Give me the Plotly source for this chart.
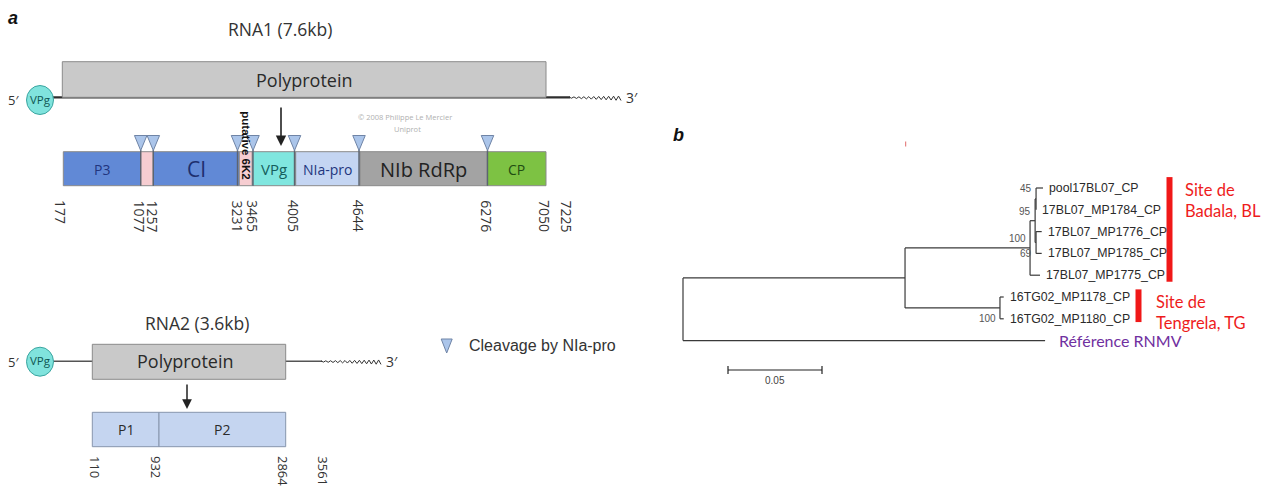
import plotly.graph_objects as go

# ================= DATA =================
# ---- Panel a : genome maps (schematic diagram units) ----
rna1_title = "RNA1 (7.6kb)"
rna1_seg_names = ["P3", "6K1", "CI", "6K2", "VPg", "NIa-pro", "NIb RdRp", "CP"]
rna1_seg_text = ["P3", "", "CI", "", "VPg", "NIa-pro", "NIb RdRp", "CP"]
rna1_seg_bounds = [63.3, 140.7, 153.3, 239.3, 252.3, 295.7, 360.0, 487.3, 546.0]
rna1_seg_colors = ["#6189d6", "#f6cdd1", "#6189d6", "#f6cdd1", "#80e6df", "#c4d5f2", "#a3a3a3", "#7dc243"]
rna1_seg_txtcol = ["#22357e", "#000000", "#1e2f6e", "#000000", "#155e5c", "#22357e", "#222222", "#1f4d12"]
rna1_seg_txtsize = [14, 10, 21, 10, 15, 14, 20, 14]
rna1_pos_labels = ["177", "1077", "1257", "3231", "3465", "4005", "4644", "6276", "7050", "7225"]
rna1_pos_x = [61, 139.5, 152.5, 237.5, 253, 294, 359.3, 486.8, 545, 566.5]
rna1_cleavage_x = [140.7, 153.3, 237.5, 253.0, 294.5, 359.0, 487.5]
rna1_poly_span = [62.3, 546.0]

rna2_title = "RNA2 (3.6kb)"
rna2_seg_names = ["P1", "P2"]
rna2_seg_bounds = [92.3, 159.0, 285.7]
rna2_pos_labels = ["110", "932", "2864", "3561"]
rna2_pos_x = [95, 156, 283, 322.7]
rna2_poly_span = [92.3, 285.7]

legend_text = "Cleavage by NIa-pro"

# ---- Panel b : phylogenetic tree ----
tip_names = ["pool17BL07_CP", "17BL07_MP1784_CP", "17BL07_MP1776_CP", "17BL07_MP1785_CP",
             "17BL07_MP1775_CP", "16TG02_MP1178_CP", "16TG02_MP1180_CP", "Référence RNMV"]
# node, parent, branch length (subst./site), bootstrap, bootstrap label placement
tree_nodes = ["root", "A", "RNMV", "B", "F", "C", "T4", "D", "E", "T0", "T1", "T2", "T3", "T5", "T6"]
tree_parent = [None, "root", "root", "A", "A", "B", "B", "C", "C", "D", "D", "E", "E", "F", "F"]
tree_blen = [0.0, 0.1181, 0.1926, 0.0665, 0.0505, 0.0027, 0.0053, 0.0005, 0.0005,
             0.0037, 0.0, 0.0030, 0.0030, 0.0020, 0.0020]
tree_boot = [None, None, None, "100", "100", "95", None, "45", "69", None, None, None, None, None, None]
tree_boot_pos = [None, None, None, "mid", "bottom", "mid", None, "top", "bottom", None, None, None, None, None, None]
tip_of_node = {"T0": 0, "T1": 1, "T2": 2, "T3": 3, "T4": 4, "T5": 5, "T6": 6, "RNMV": 7}
scale_bar_len = 0.05
scale_bar_label = "0.05"

clade_names = ["Site de<br>Badala, BL", "Site de<br>Tengrela, TG"]
clade_tip_span = [(-0.5, 4.3), (4.65, 6.15)]
clade_bar_x = [1169.5, 1138.5]
clade_text_x = [1183, 1154]

# ================= LAYOUT CONSTANTS =================
W, H = 1267, 490
ROOT_PX, PX_PER_UNIT = 683.0, 1880.0
TIP0_PX, TIP_STEP = 188.0, 21.8

FONT_A = "Open Sans, Noto Sans, sans-serif"
FONT_N = "Liberation Sans, Arial, sans-serif"
FONT_C = "Lato, Open Sans, sans-serif"

shapes = []
annots = []


def txt(x, y, s, size=13, color="#333", family=FONT_A, xa="center", ya="middle", angle=0,
        xref="x", yref="y", **kw):
    annots.append(dict(x=x, y=y, text=s, showarrow=False, xref=xref, yref=yref, xanchor=xa,
                       yanchor=ya, textangle=angle, font=dict(size=size, color=color, family=family),
                       borderpad=0, **kw))


def rect(x0, x1, y0, y1, fill, line="#8a8a8a", lw=1):
    shapes.append(dict(type="rect", xref="x", yref="y", x0=x0, x1=x1, y0=y0, y1=y1,
                       fillcolor=fill, line=dict(color=line, width=lw), layer="above"))


def seg(x0, y0, x1, y1, color="#333", lw=1, xref="x", yref="y"):
    shapes.append(dict(type="line", xref=xref, yref=yref, x0=x0, y0=y0, x1=x1, y1=y1,
                       line=dict(color=color, width=lw), layer="above"))


def wave(x0, x1, y, n_amp_end=3.2):
    pts = []
    n = int((x1 - x0) / 2.4)
    for i in range(n + 1):
        xx = x0 + i * (x1 - x0) / n
        amp = 0.8 + (n_amp_end - 0.8) * i / n
        yy = y + (amp if i % 2 else -amp * 0.4)
        pts.append(f"{xx:.2f},{yy:.2f}")
    path = "M " + " L ".join(pts)
    shapes.append(dict(type="path", xref="x", yref="y", path=path,
                       line=dict(color="#333", width=1), layer="above"))


def vpg(cx, cy):
    shapes.append(dict(type="circle", xref="x", yref="y", x0=cx - 13.5, x1=cx + 13.5,
                       y0=cy - 14.5, y1=cy + 14.5, fillcolor="#80e3dd",
                       line=dict(color="#3aa5a0", width=1), layer="above"))
    txt(cx, cy - 1, "VPg", size=11.5, color="#0f5652")
    txt(cx - 20, cy, "5′", size=13, color="#333", xa="right")


def tri(x, ytop, w=12.5, h=15):
    shapes.append(dict(type="path", xref="x", yref="y",
                       path=f"M {x - w/2},{ytop} L {x + w/2},{ytop} L {x},{ytop + h} Z",
                       fillcolor="#abc5ea", line=dict(color="#6f84a6", width=1), layer="above"))


# ================= PANEL a =================
txt(13, 18, "<b><i>a</i></b>", size=18, color="#111", family="Liberation Sans, Arial, sans-serif")

# RNA1
txt((rna1_poly_span[0] + rna1_poly_span[1]) / 2 - 24, 29, rna1_title, size=17.5, color="#333")
seg(53, 97.3, 570, 97.3, color="#2e2e2e", lw=2.2)
wave(569, 621, 97.3)
txt(625, 97, "3′", size=14, color="#333", xa="left")
rect(rna1_poly_span[0], rna1_poly_span[1], 61.7, 97.3, "#c9c9c9")
txt((rna1_poly_span[0] + rna1_poly_span[1]) / 2, 80, "Polyprotein", size=18, color="#2a2a2a")
vpg(40, 100)

for i, name in enumerate(rna1_seg_names):
    x0, x1 = rna1_seg_bounds[i], rna1_seg_bounds[i + 1]
    rect(x0, x1, 151.7, 185.7, rna1_seg_colors[i])
    if rna1_seg_text[i]:
        txt((x0 + x1) / 2, 169, rna1_seg_text[i], size=rna1_seg_txtsize[i], color=rna1_seg_txtcol[i])

for x in rna1_cleavage_x:
    seg(x, 150, x, 185.7, color="#5c6470", lw=1.4)
    tri(x, 135.5)

for lab, x in zip(rna1_pos_labels, rna1_pos_x):
    txt(x, 199, lab, size=14, color="#333", angle=90, ya="top")

txt(245.7, 145, "<b>putative 6K2</b>", size=11.5, color="#111", angle=90,
    family="Liberation Sans, Arial, sans-serif")

annots.append(dict(x=281, y=146, ax=281, ay=106, xref="x", yref="y", axref="x", ayref="y",
                   text="", showarrow=True, arrowhead=2, arrowsize=1.3, arrowwidth=1.6,
                   arrowcolor="#222"))

txt(405, 117, "© 2008 Philippe Le Mercier", size=7.5, color="#b0b0b0")
txt(407, 128.5, "Uniprot", size=7.5, color="#b0b0b0")

# RNA2
txt((rna2_poly_span[0] + rna2_poly_span[1]) / 2 + 8, 323, rna2_title, size=17.5, color="#333")
seg(53, 361.2, 322, 361.2, color="#555", lw=1.5)
wave(321, 381, 361.2)
txt(385, 361, "3′", size=14, color="#333", xa="left")
rect(rna2_poly_span[0], rna2_poly_span[1], 344.3, 379.3, "#c9c9c9")
txt((rna2_poly_span[0] + rna2_poly_span[1]) / 2 - 4, 361, "Polyprotein", size=18, color="#2a2a2a")
vpg(40, 361.7)
annots.append(dict(x=187, y=409, ax=187, ay=383, xref="x", yref="y", axref="x", ayref="y",
                   text="", showarrow=True, arrowhead=2, arrowsize=1.3, arrowwidth=1.5,
                   arrowcolor="#222"))
for i, name in enumerate(rna2_seg_names):
    x0, x1 = rna2_seg_bounds[i], rna2_seg_bounds[i + 1]
    rect(x0, x1, 412.3, 446.7, "#c5d5f0", line="#8795ad")
    txt((x0 + x1) / 2, 429.5, name, size=14, color="#2b2b2b")
for lab, x in zip(rna2_pos_labels, rna2_pos_x):
    txt(x, 455, lab, size=13, color="#333", angle=90, ya="top")

# legend
tri(446.7, 339, w=11, h=14)
txt(468, 345, legend_text, size=16, color="#333", family=FONT_N, xa="left")

# ================= PANEL b : tree =================
txt(678, 135, "<b><i>b</i></b>", size=18, color="#111", family="Liberation Sans, Arial, sans-serif")
seg(905.7, 141.5, 905.7, 146.5, color="#e06a6a", lw=1)

# compute node coordinates
idx = {n: i for i, n in enumerate(tree_nodes)}
children = {n: [] for n in tree_nodes}
for n, p in zip(tree_nodes, tree_parent):
    if p is not None:
        children[p].append(n)
nx, ny = {}, {}


def place_x(n, x):
    nx[n] = x
    for c in children[n]:
        place_x(c, x + tree_blen[idx[c]])


def place_y(n):
    if n in tip_of_node:
        ny[n] = tip_of_node[n]
    else:
        ys = [place_y(c) for c in children[n]]
        ny[n] = (min(ys) + max(ys)) / 2
    return ny[n]


place_x("root", 0.0)
place_y("root")

lx, ly = [], []
for n in tree_nodes:
    p = tree_parent[idx[n]]
    if p is not None:
        lx += [nx[p], nx[n], None]
        ly += [ny[n], ny[n], None]
    if children[n]:
        cy = [ny[c] for c in children[n]]
        lx += [nx[n], nx[n], None]
        ly += [min(cy), max(cy), None]

traces = [go.Scatter(x=lx, y=ly, xaxis="x2", yaxis="y2", mode="lines",
                     line=dict(color="#3a3a3a", width=1.2), hoverinfo="skip", showlegend=False)]

# tip labels
for n, t in tip_of_node.items():
    if t == 7:
        annots.append(dict(x=nx[n], y=ny[n], xref="x2", yref="y2", text=tip_names[t], showarrow=False,
                           xanchor="left", yanchor="middle", xshift=12,
                           font=dict(size=16, color="#7030a0", family=FONT_C)))
    else:
        annots.append(dict(x=nx[n], y=ny[n], xref="x2", yref="y2", text=tip_names[t], showarrow=False,
                           xanchor="left", yanchor="middle", xshift=4,
                           font=dict(size=12.3, color="#2a2a2a", family=FONT_N)))

# bootstrap values
for n, b, pos in zip(tree_nodes, tree_boot, tree_boot_pos):
    if b is None:
        continue
    cy = [ny[c] for c in children[n]]
    if pos == "top":
        y, ys = min(cy), 0
    elif pos == "bottom":
        y, ys = max(cy), 0
    else:
        y, ys = ny[n], 9
    annots.append(dict(x=nx[n], y=y, xref="x2", yref="y2", text=b, showarrow=False,
                       xanchor="right", yanchor="middle", xshift=-2, yshift=ys,
                       font=dict(size=10, color="#555", family=FONT_N)))

# scale bar
sb_x0 = (728 - ROOT_PX) / PX_PER_UNIT
sb_y = (370 - TIP0_PX) / TIP_STEP
traces.append(go.Scatter(x=[sb_x0, sb_x0 + scale_bar_len, None, sb_x0, sb_x0, None,
                            sb_x0 + scale_bar_len, sb_x0 + scale_bar_len],
                         y=[sb_y, sb_y, None, sb_y - 0.18, sb_y + 0.18, None, sb_y - 0.18, sb_y + 0.18],
                         xaxis="x2", yaxis="y2", mode="lines", line=dict(color="#222", width=1.2),
                         hoverinfo="skip", showlegend=False))
annots.append(dict(x=sb_x0 + scale_bar_len / 2, y=sb_y, xref="x2", yref="y2", text=scale_bar_label,
                   showarrow=False, yanchor="top", yshift=-3,
                   font=dict(size=10, color="#444", family=FONT_N)))

# clade bars
for name, (t0, t1), bx, tx in zip(clade_names, clade_tip_span, clade_bar_x, clade_text_x):
    shapes.append(dict(type="rect", xref="x", yref="y2", x0=bx - 3, x1=bx + 3, y0=t0, y1=t1,
                       fillcolor="#f01818", line=dict(width=0), layer="above"))
    annots.append(dict(x=tx, y=t0, xref="x", yref="y2", text=name, showarrow=False,
                       xanchor="left", yanchor="top", align="left", yshift=-1,
                       font=dict(size=16.5, color="#ee1c1c", family=FONT_C)))

fig = go.Figure(traces)
fig.update_layout(
    width=W, height=H, margin=dict(l=0, r=0, t=0, b=0),
    paper_bgcolor="white", plot_bgcolor="white", showlegend=False,
    xaxis=dict(range=[0, W], visible=False, domain=[0, 1], fixedrange=True),
    yaxis=dict(range=[H, 0], visible=False, domain=[0, 1], fixedrange=True),
    xaxis2=dict(range=[-ROOT_PX / PX_PER_UNIT, (W - ROOT_PX) / PX_PER_UNIT], visible=False,
                overlaying="x", anchor="y2", fixedrange=True),
    yaxis2=dict(range=[(H - TIP0_PX) / TIP_STEP, -TIP0_PX / TIP_STEP], visible=False,
                overlaying="y", anchor="x2", fixedrange=True),
    shapes=shapes, annotations=annots,
)
fig.write_html("out.html", config={"displayModeBar": False},
               post_script="document.body.style.margin='0px';document.body.style.overflow='hidden';")
